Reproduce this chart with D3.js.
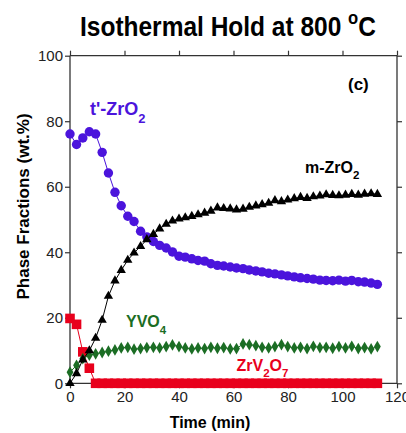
<!DOCTYPE html>
<html>
<head>
<meta charset="utf-8">
<script src="https://cdn.jsdelivr.net/npm/d3@7"></script>
<style>
  html, body { margin: 0; padding: 0; background: #fff; }
  svg { display: block; font-family: "Liberation Sans", Arial, sans-serif; }
</style>
</head>
<body>
<svg id="chart" width="406" height="433"></svg>
<script>
// Sampling times of the in-situ scans (min)
const timeMin = [0, 2.4, 4.7, 7.1, 9.4, 11.8, 14.1, 16.5, 18.8, 21.2, 23.5, 25.9, 28.2, 30.6, 32.9,
  35.3, 37.6, 40, 42.3, 44.7, 47, 49.4, 51.7, 54.1, 56.4, 58.8, 61.1, 63.5, 65.8, 68.2, 70.5,
  72.9, 75.2, 77.6, 79.9, 82.3, 84.6, 87, 89.3, 91.7, 94, 96.4, 98.7, 101.1, 103.4, 105.8,
  108.1, 110.5, 112.8];

// Phase fractions (wt.%) at each time
const tZrO2 = [76.1, 72.9, 74.9, 76.8, 76.1, 70.5, 64.2, 58.3, 54.2, 51.0, 49.4, 46.4, 44.7, 43.3, 42.1,
  41.3, 40.1, 38.8, 38.5, 38.0, 37.5, 37.3, 36.5, 36.0, 35.8, 35.5, 35.2, 35.0, 34.6, 34.3, 34.0,
  33.6, 33.4, 33.1, 32.8, 32.5, 32.2, 32.0, 31.8, 31.5, 31.4, 31.3, 31.5, 31.2, 31.4, 31.0,
  30.9, 30.6, 30.2];
const mZrO2 = [0, 3.0, 7.2, 10.0, 13.8, 19.3, 26.6, 31.3, 34.5, 37.6, 39.8, 41.8, 43.9, 45.5, 47.2,
  48.6, 49.6, 50.2, 50.6, 51.0, 51.5, 52.0, 52.6, 53.6, 53.4, 53.3, 53.0, 53.2, 53.8, 54.2, 54.6,
  55.0, 55.8, 55.5, 56.0, 56.4, 56.8, 56.5, 57.0, 57.2, 57.6, 57.4, 57.3, 57.5, 57.7, 57.5,
  57.8, 57.9, 57.7];
const yvo4 = [3.4, 5.5, 7.5, 8.6, 9.0, 9.4, 9.8, 10.2, 10.8, 11.0, 10.4, 10.6, 10.9, 11.0, 10.8,
  11.2, 11.7, 11.2, 10.8, 10.5, 10.8, 10.6, 11.0, 10.7, 10.9, 10.5, 10.6, 12.0, 11.8, 11.5, 11.0,
  10.8, 11.2, 11.8, 11.2, 10.8, 11.0, 10.6, 11.3, 10.9, 11.0, 10.7, 11.2, 10.8, 11.3, 10.6,
  10.9, 10.5, 11.2];
const zrV2O7 = [19.8, 18.0, 9.6, 4.6, 0, 0, 0, 0, 0, 0, 0, 0, 0, 0, 0,
  0, 0, 0, 0, 0, 0, 0, 0, 0, 0, 0, 0, 0, 0, 0, 0,
  0, 0, 0, 0, 0, 0, 0, 0, 0, 0, 0, 0, 0, 0, 0,
  0, 0, 0];

const xTicks = [0, 20, 40, 60, 80, 100, 120];
const yTicks = [0, 20, 40, 60, 80, 100];

const svg = d3.select("#chart");
const plotL = 70, plotR = 397, plotT = 55.7, plotB = 383.3;

const x = d3.scaleLinear().domain([0, 120]).range([plotL, plotR]);
const y = d3.scaleLinear().domain([0, 100]).range([plotB, plotT]);

const axisColor = "#333";

// Frame axes
const gx = svg.append("g").attr("transform", `translate(0,${plotB})`)
  .call(d3.axisBottom(x).tickValues(xTicks).tickSize(5).tickPadding(3));
const gxTop = svg.append("g").attr("transform", `translate(0,${plotT})`)
  .call(d3.axisTop(x).tickValues(xTicks).tickSize(5).tickFormat(""));
const gy = svg.append("g").attr("transform", `translate(${plotL},0)`)
  .call(d3.axisLeft(y).tickValues(yTicks).tickSize(5).tickPadding(2));
const gyRight = svg.append("g").attr("transform", `translate(${plotR},0)`)
  .call(d3.axisRight(y).tickValues(yTicks).tickSize(5).tickFormat(""));

[gx, gxTop, gy, gyRight].forEach(g => {
  g.select(".domain").attr("stroke", axisColor).attr("stroke-width", 1.3);
  g.selectAll(".tick line").attr("stroke", axisColor).attr("stroke-width", 1.2);
  g.selectAll(".tick text").attr("fill", "#222").style("font-size", "15px")
    .style("font-family", '"Liberation Sans", Arial, sans-serif');
});
// plain frame lines without the outer end caps
gx.select(".domain").attr("d", `M${plotL},0H${plotR}`);
gxTop.select(".domain").attr("d", `M${plotL},0H${plotR}`);
gy.select(".domain").attr("d", `M0,${plotT}V${plotB}`);
gyRight.select(".domain").attr("d", `M0,${plotT}V${plotB}`);

// Series
const series = [
  { values: tZrO2, color: "#4b14dc", shape: "circle" },
  { values: zrV2O7, color: "#e8001c", shape: "square" },
  { values: yvo4, color: "#1b6d24", shape: "diamond" },
  { values: mZrO2, color: "#000000", shape: "triangle" }
];

const symbolFor = {
  circle: d3.symbol().type(d3.symbolCircle).size(Math.PI * 4.7 * 4.7),
  square: d3.symbol().type(d3.symbolSquare).size(9.6 * 9.6),
  diamond: d3.symbol().type(d3.symbolDiamond).size(40),
  triangle: d3.symbol().type(d3.symbolTriangle).size(38)
};

const line = d3.line().x(d => x(d[0])).y(d => y(d[1]));

series.forEach(s => {
  const pts = timeMin.map((t, i) => [t, s.values[i]]);
  const g = svg.append("g");
  g.append("path").datum(pts).attr("d", line)
    .attr("fill", "none").attr("stroke", s.color).attr("stroke-width", 1);
  g.selectAll("path.mk").data(pts).join("path").attr("class", "mk")
    .attr("transform", d => `translate(${x(d[0])},${y(d[1])})`)
    .attr("d", symbolFor[s.shape]())
    .attr("fill", s.color);
});

// Series labels with chemical subscripts
function chemLabel(xp, yp, parts, color, size) {
  const t = svg.append("text").attr("x", xp).attr("y", yp)
    .attr("fill", color).style("font-weight", "bold").style("font-size", size + "px");
  parts.forEach(p => {
    if (p.sub) {
      t.append("tspan").text(p.sub).style("font-size", (size * 0.72) + "px").attr("dy", size * 0.42);
    } else {
      t.append("tspan").text(p.txt).attr("dy", p.up ? -size * 0.42 : 0);
    }
  });
  return t;
}

chemLabel(90, 115, [{ txt: "t'-ZrO" }, { sub: "2" }], "#4b14dc", 18);
chemLabel(305, 172.7, [{ txt: "m-ZrO" }, { sub: "2" }], "#000", 16);
chemLabel(126, 327, [{ txt: "YVO" }, { sub: "4" }], "#1b6d24", 16);
chemLabel(236.5, 370.7, [{ txt: "ZrV" }, { sub: "2" }, { txt: "O", up: true }, { sub: "7" }], "#e8001c", 16);

svg.append("text").attr("x", 348).attr("y", 90).text("(c)")
  .style("font-weight", "bold").style("font-size", "17px").attr("fill", "#000");

// Title with degree symbol
const title = svg.append("g").attr("transform", "translate(80,36) scale(0.98,1.08)");
const tt = title.append("text").attr("x", 0).attr("y", 0)
  .style("font-weight", "bold").style("font-size", "25px").attr("fill", "#000");
tt.append("tspan").text("Isothermal Hold at 800 ");
tt.append("tspan").text("o").style("font-size", "17px").attr("dy", -11);
tt.append("tspan").text("C").attr("dy", 11);

// Axis titles
svg.append("text").attr("x", 210).attr("y", 428).attr("text-anchor", "middle")
  .text("Time (min)").style("font-weight", "bold").style("font-size", "16px");
svg.append("text").attr("transform", "translate(29,206.5) rotate(-90)")
  .attr("text-anchor", "middle").text("Phase Fractions (wt.%)")
  .style("font-weight", "bold").style("font-size", "17px");
</script>
</body>
</html>
